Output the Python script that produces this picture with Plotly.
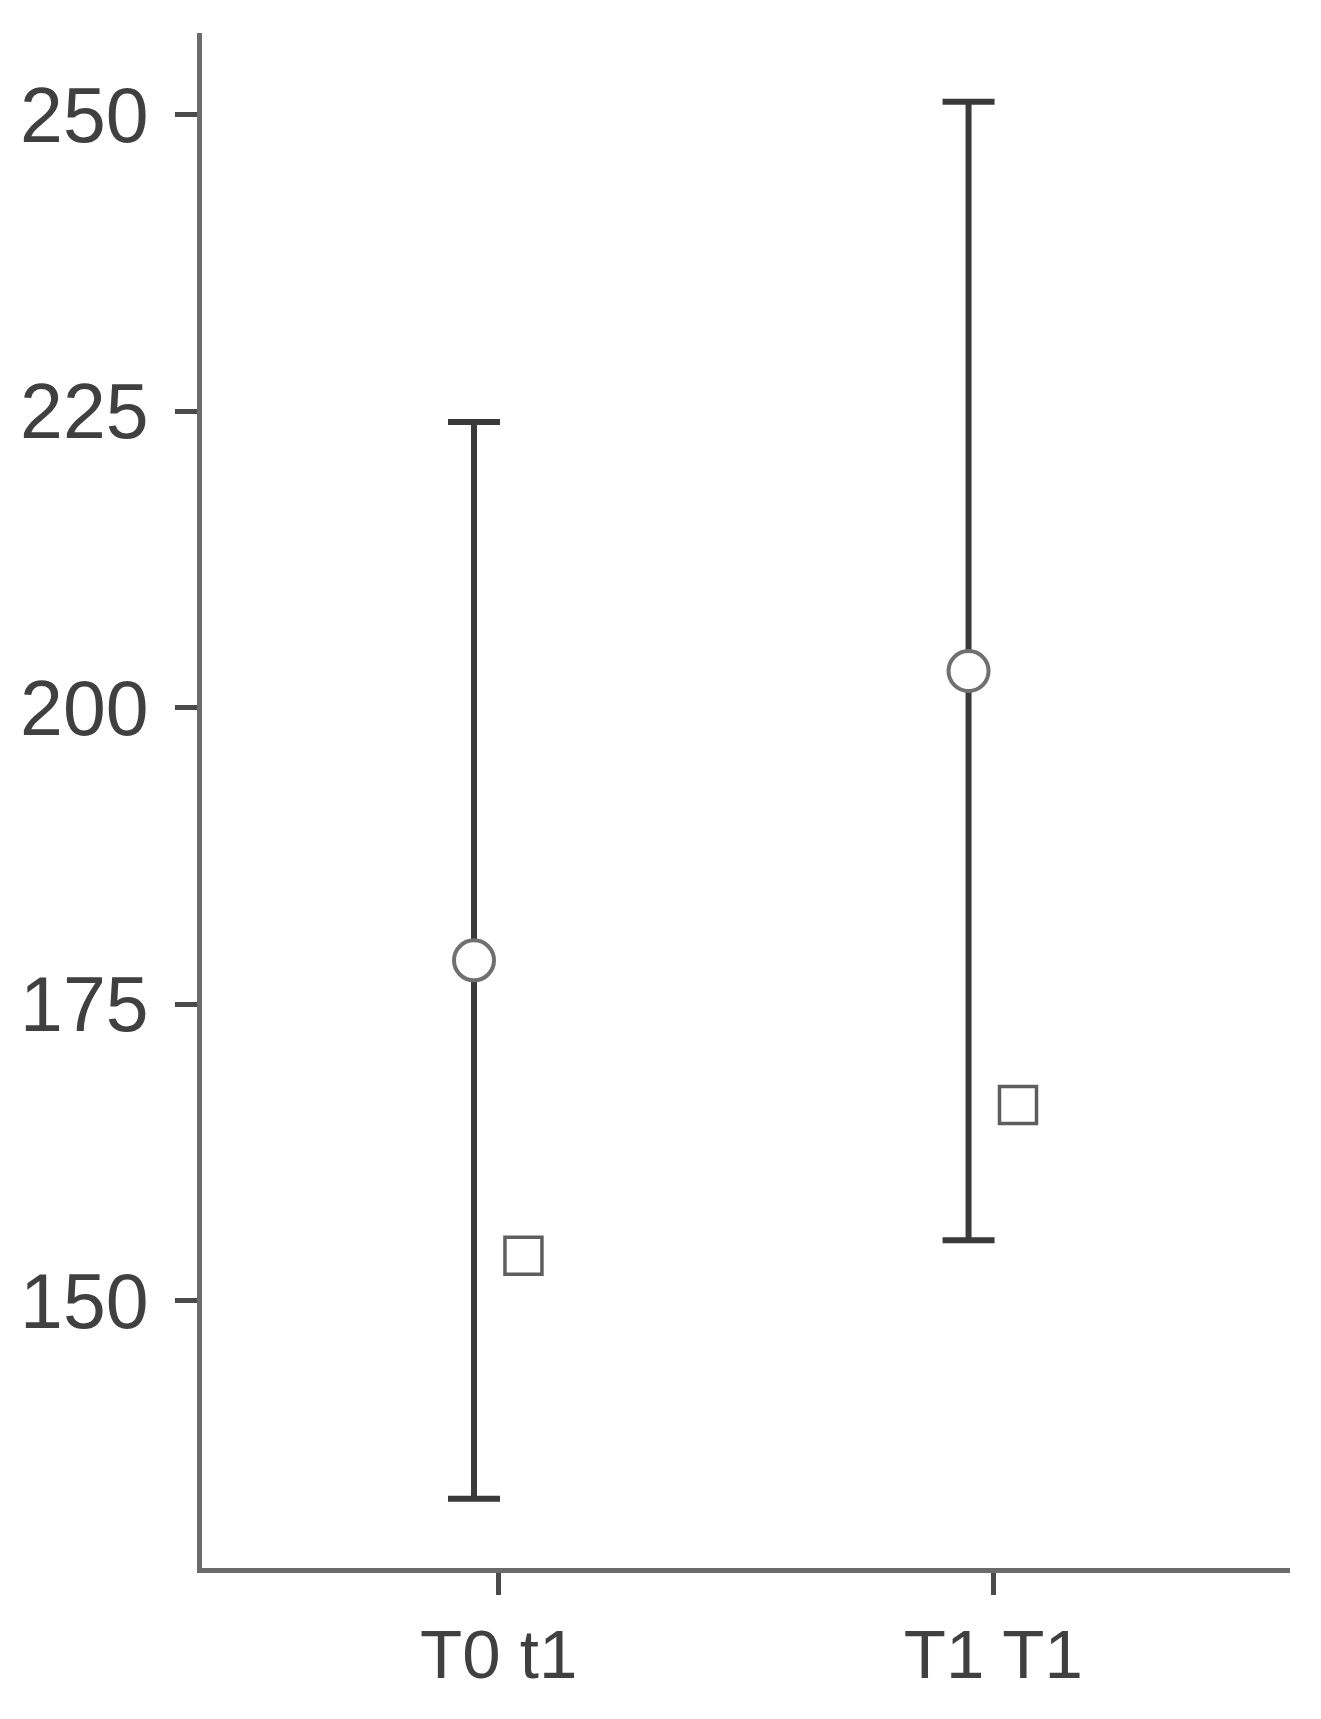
import plotly.graph_objects as go

categories = ["T0 t1", "T1 T1"]
cat_pos = [0, 1]
means = [178.7, 203.1]
errors = [45.4, 48.0]
squares = [153.8, 166.5]
y_ticks = [150, 175, 200, 225, 250]

dodge = 0.05
x_circ = [p - dodge for p in cat_pos]
x_sq = [p + dodge for p in cat_pos]

fig = go.Figure()
fig.add_trace(go.Scatter(
    x=x_circ, y=means, mode="markers",
    marker=dict(symbol="circle", size=40, color="white",
                line=dict(color="#707070", width=4)),
    error_y=dict(type="data", array=errors, visible=True,
                 color="#3a3a3a", thickness=6, width=26),
    showlegend=False,
))
fig.add_trace(go.Scatter(
    x=x_sq, y=squares, mode="markers",
    marker=dict(symbol="square", size=37, color="white",
                line=dict(color="#5e5e5e", width=3.5)),
    showlegend=False,
))

yfont = dict(family="Liberation Sans, Arial, sans-serif", size=77, color="#404040")
xfont = dict(family="Liberation Sans, Arial, sans-serif", size=69, color="#404040")
fig.update_layout(
    width=1321, height=1719,
    margin=dict(l=190, r=39, t=25, b=159),
    plot_bgcolor="white", paper_bgcolor="white",
    xaxis=dict(range=[-0.6, 1.6], tickvals=cat_pos, ticktext=categories,
               showgrid=False, zeroline=False, showline=True,
               linecolor="#6b6b6b", linewidth=5,
               ticks="outside", ticklen=22, tickwidth=5, tickcolor="#4a4a4a",
               tickfont=xfont),
    yaxis=dict(range=[127.46, 256.9], tickvals=y_ticks,
               showgrid=False, zeroline=False, showline=True,
               linecolor="#6b6b6b", linewidth=5,
               ticks="outside", ticklen=22, tickwidth=5, tickcolor="#4a4a4a",
               ticklabelstandoff=11, tickfont=yfont),
)
fig.write_html("out.html")
